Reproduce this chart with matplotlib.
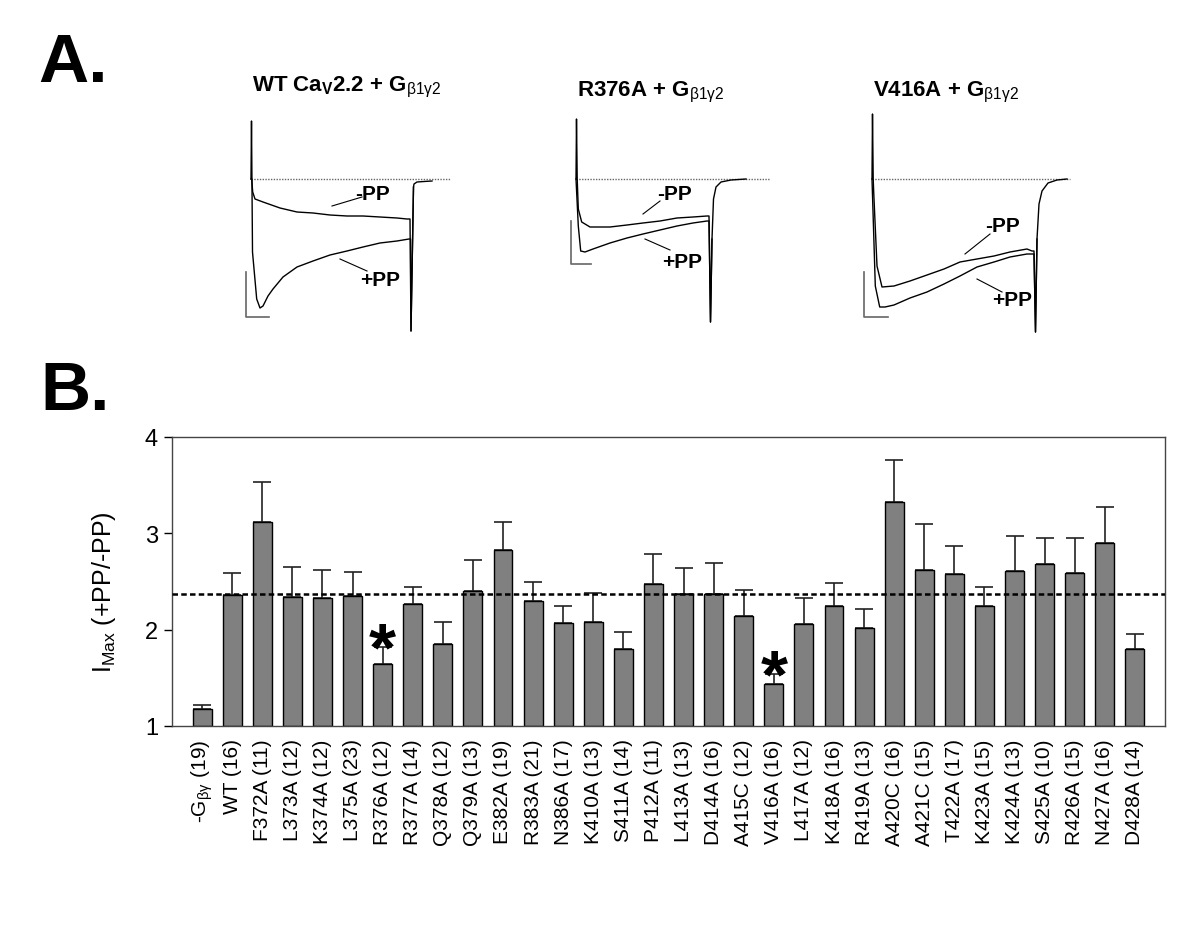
import numpy as np
import matplotlib.pyplot as plt

plt.rcParams['font.family'] = ['Liberation Sans', 'DejaVu Sans']
plt.rcParams['mathtext.fontset'] = 'custom'
plt.rcParams['mathtext.rm'] = 'Liberation Sans'
plt.rcParams['mathtext.it'] = 'Liberation Sans:italic'
plt.rcParams['mathtext.bf'] = 'Liberation Sans:bold'

# ---- panel B data: I_Max ratio (+PP/-PP), mean and SEM ----
mutants = [r'-G$_{\mathrm{\beta\gamma}}$ (19)', 'WT (16)', 'F372A (11)', 'L373A (12)', 'K374A (12)',
           'L375A (23)', 'R376A (12)', 'R377A (14)', 'Q378A (12)', 'Q379A (13)',
           'E382A (19)', 'R383A (21)', 'N386A (17)', 'K410A (13)', 'S411A (14)',
           'P412A (11)', 'L413A (13)', 'D414A (16)', 'A415C (12)', 'V416A (16)',
           'L417A (12)', 'K418A (16)', 'R419A (13)', 'A420C (16)', 'A421C (15)',
           'T422A (17)', 'K423A (15)', 'K424A (13)', 'S425A (10)', 'R426A (15)',
           'N427A (16)', 'D428A (14)']
ratio_mean = [1.18, 2.36, 3.12, 2.34, 2.33, 2.35, 1.64, 2.27, 1.85, 2.40,
              2.83, 2.30, 2.07, 2.08, 1.80, 2.47, 2.37, 2.37, 2.14, 1.44,
              2.06, 2.25, 2.02, 3.33, 2.62, 2.58, 2.25, 2.61, 2.68, 2.59,
              2.90, 1.80]
ratio_sem = [0.04, 0.23, 0.41, 0.31, 0.29, 0.25, 0.18, 0.17, 0.23, 0.32,
             0.29, 0.19, 0.18, 0.30, 0.18, 0.32, 0.27, 0.32, 0.27, 0.10,
             0.27, 0.23, 0.19, 0.43, 0.48, 0.29, 0.19, 0.36, 0.27, 0.36,
             0.37, 0.16]
wt_level = 2.367
significant = ['R376A (12)', 'V416A (16)']

# ---- panel A data: current traces (time, current; arbitrary units, baseline 0) ----
wt_minus_t = [0, 0.7, 1.7, 4, 12, 29, 46, 62, 79, 96, 112, 129, 146, 156, 159,
              160, 162.5, 163, 166, 173, 181]
wt_minus_i = [0, 0, -13, -20, -23, -29, -33, -34, -36, -37, -37, -38, -39, -40, -40,
              -152, -8, -5, -3, -2.5, -2]
wt_plus_t = [0, 0.5, 1.5, 5.7, 9, 12, 17, 22, 32, 46, 62, 79, 96, 112, 129, 146,
             158, 159.5, 160, 162.5]
wt_plus_i = [0, 58, -73, -120, -129, -127, -117, -110, -98, -88, -82, -76, -72, -68,
             -64, -62, -60, -60, -152, -8]

r376_minus_t = [0, 0.5, 1.2, 2.3, 5.7, 14, 34, 51, 67, 84, 101, 117, 131, 133,
                134.5, 136, 137.5, 140, 145, 155, 170]
r376_minus_i = [0, 60, 0, -30, -43, -48, -48, -46, -44, -42, -39, -38, -37, -37,
                -143, -60, -20, -8, -3, -1, 0]
r376_plus_t = [0, 2.3, 4.7, 9, 17, 34, 51, 67, 84, 101, 117, 131, 133, 134.5, 136]
r376_plus_i = [0, -47, -72, -73, -70, -64, -59, -55, -51, -47, -44, -42, -42, -143, -60]

v416_minus_t = [0, 0.5, 1.2, 1.7, 5, 10, 22, 38, 55, 72, 88, 105, 122, 138, 155,
                160, 162, 163.5, 165, 167, 170, 176, 185, 195]
v416_minus_i = [0, 65, 0, -13, -87, -108, -107, -102, -96, -90, -83, -80, -77, -73,
                -70, -72, -72, -153, -60, -25, -12, -4, -1, 0]
v416_plus_t = [0, 3.3, 7.7, 13, 22, 38, 55, 72, 88, 105, 122, 138, 155, 160, 162,
               163.5, 165]
v416_plus_i = [0, -107, -128, -128, -126, -119, -113, -105, -97, -88, -83, -78, -75,
               -75, -75, -153, -60]

fig = plt.figure(figsize=(12, 9.45), dpi=100)

# ---------------- panel A ----------------
g_sub = r'G$_{\mathrm{\beta}1\mathrm{\gamma}2}$'
traces = [
    dict(x0=251, title=r'WT Ca$_\mathbf{V}$2.2 + ' + g_sub, title_y=91,
         minus=(wt_minus_t, wt_minus_i), plus=(wt_plus_t, wt_plus_i), base_end=199,
         bar=(-5, -93, 23, 45),
         lab_m=(121, -15), ptr_m=((81, -27), (111, -18)),
         lab_p=(129, -101), ptr_p=((89, -80), (116, -92))),
    dict(x0=576, title='R376A + ' + g_sub, title_y=96,
         minus=(r376_minus_t, r376_minus_i), plus=(r376_plus_t, r376_plus_i), base_end=194,
         bar=(-5, -42, 20, 43),
         lab_m=(99, -15), ptr_m=((67, -35), (84, -22)),
         lab_p=(106, -82), ptr_p=((69, -60), (94, -71))),
    dict(x0=872, title='V416A + ' + g_sub, title_y=96,
         minus=(v416_minus_t, v416_minus_i), plus=(v416_plus_t, v416_plus_i), base_end=198,
         bar=(-8, -93, 24, 45),
         lab_m=(130, -47), ptr_m=((93, -75), (118, -55)),
         lab_p=(140, -120), ptr_p=((105, -100), (130, -113))),
]

for tr in traces:
    axa = fig.add_axes([(tr['x0'] - 25) / 1200, 1 - 345 / 945, 240 / 1200, 245 / 945])
    axa.set_xlim(-25, 215)
    axa.set_ylim(-165, 80)
    axa.axis('off')
    axa.plot([0, tr['base_end']], [0, 0], color='#666666', lw=1, ls=(0, (1, 1)))
    axa.plot(*tr['minus'], color='black', lw=1.0)
    axa.plot(*tr['plus'], color='black', lw=1.0)
    bx, by, bw, bh = tr['bar']
    axa.plot([bx, bx, bx + bw], [by, by - bh, by - bh], color='#666666', lw=1.2)
    axa.text(*tr['lab_m'], '-PP', fontsize=15, fontweight='bold', ha='center', va='center')
    axa.text(*tr['lab_p'], '+PP', fontsize=15, fontweight='bold', ha='center', va='center')
    for p in (tr['ptr_m'], tr['ptr_p']):
        axa.plot([p[0][0], p[1][0]], [p[0][1], p[1][1]], color='black', lw=0.8)
    fig.text((tr['x0'] + 1) / 1200, 1 - tr['title_y'] / 945, tr['title'],
             fontsize=16, fontweight='bold', ha='left', va='baseline')

fig.text(38 / 1200, 1 - 82 / 945, 'A.', fontsize=50, fontweight='bold', va='baseline')
fig.text(40 / 1200, 1 - 410 / 945, 'B.', fontsize=50, fontweight='bold', va='baseline')

# ---------------- panel B ----------------
ax = fig.add_axes([172 / 1200, 1 - 727 / 945, 993 / 1200, 289 / 945])
x = np.arange(len(mutants))
ax.bar(x, np.array(ratio_mean) - 1, bottom=1, width=0.63, color='#808080',
       edgecolor='black', linewidth=1, zorder=2)
ax.errorbar(x, ratio_mean, yerr=[np.zeros(len(x)), ratio_sem], fmt='none',
            ecolor='#222222', elinewidth=1.2, capsize=6.5, capthick=1.2, zorder=1)
ax.axhline(wt_level, color='black', lw=1.8, ls=(0, (2.2, 1.3)), zorder=3)

for name in significant:
    k = mutants.index(name)
    ax.annotate('*', (x[k], ratio_mean[k] + ratio_sem[k]), xytext=(0, -16),
                textcoords='offset points', ha='center', va='baseline',
                fontsize=50, fontweight='bold')

ax.set_xlim(-1, 32)
ax.set_ylim(1, 4)
ax.set_yticks([1, 2, 3, 4])
ax.set_xticks(x)
ax.set_xticklabels(mutants, rotation=90, fontsize=15)
ax.tick_params(axis='x', length=0, pad=9)
ax.tick_params(axis='y', direction='out', length=6, width=1, pad=4, labelsize=17)
for s in ax.spines.values():
    s.set_color('#444444')
    s.set_linewidth(1)
ax.set_ylabel(r'I$_{\mathrm{Max}}$ (+PP/-PP)', fontsize=18)
ax.yaxis.set_label_coords(-0.054, 0.467)

fig.savefig('out.png', dpi=100)
